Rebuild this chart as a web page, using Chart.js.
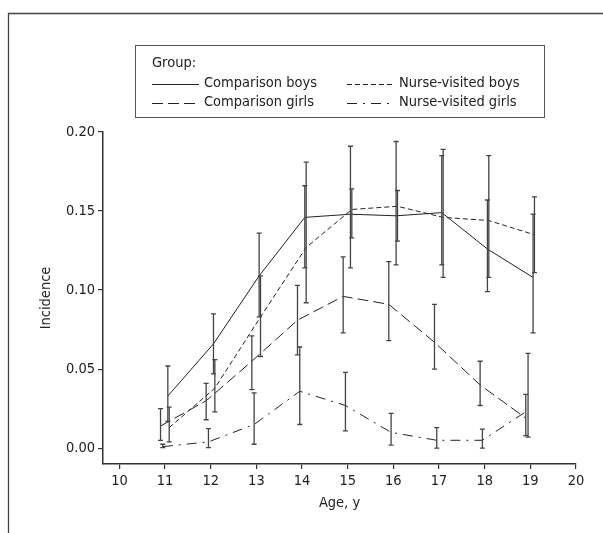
<!DOCTYPE html>
<html>
<head>
<meta charset="utf-8">
<script src="https://cdn.jsdelivr.net/npm/chart.js@4.4.1/dist/chart.umd.min.js"></script>
<style>
  html, body { margin: 0; padding: 0; background: #fff; }
  #wrap { width: 603px; height: 533px; position: relative; }
</style>
</head>
<body>
<div id="wrap"><canvas id="chart"></canvas></div>
<script>
const ages = [11, 12, 13, 14, 15, 16, 17, 18, 19];
const xTicks = [10, 11, 12, 13, 14, 15, 16, 17, 18, 19, 20];
const yTicks = [0, 0.05, 0.1, 0.15, 0.2];

const compBoys     = [0.033, 0.066, 0.109, 0.146, 0.148, 0.147, 0.149, 0.126, 0.108];
const compBoysLow  = [0.017, 0.047, 0.083, 0.114, 0.114, 0.116, 0.116, 0.099, 0.073];
const compBoysHigh = [0.052, 0.085, 0.136, 0.166, 0.191, 0.194, 0.185, 0.157, 0.148];

const nurseBoys     = [0.013, 0.038, 0.083, 0.127, 0.151, 0.153, 0.146, 0.144, 0.135];
const nurseBoysLow  = [0.004, 0.023, 0.058, 0.092, 0.133, 0.131, 0.108, 0.108, 0.111];
const nurseBoysHigh = [0.026, 0.056, 0.109, 0.181, 0.164, 0.163, 0.189, 0.185, 0.159];

const compGirls     = [0.014, 0.030, 0.055, 0.081, 0.096, 0.091, 0.067, 0.040, 0.019];
const compGirlsLow  = [0.005, 0.018, 0.037, 0.059, 0.073, 0.068, 0.050, 0.027, 0.008];
const compGirlsHigh = [0.025, 0.041, 0.071, 0.103, 0.121, 0.118, 0.091, 0.055, 0.034];

const nurseGirls     = [0.001, 0.004, 0.015, 0.036, 0.027, 0.010, 0.005, 0.005, 0.024];
const nurseGirlsLow  = [0.0004, 0.0004, 0.0025, 0.015, 0.011, 0.002, 0.000, 0.000, 0.007];
const nurseGirlsHigh = [0.0025, 0.0124, 0.035, 0.064, 0.048, 0.022, 0.013, 0.012, 0.060];

const FONT = "'Liberation Sans Narrow', 'Arial Narrow', 'DejaVu Sans Condensed', sans-serif";
const FONT_SIZE = 14.5;
const ink = "#222";

// small horizontal dodge so the bars at one age don't overlap
function series(label, values, low, high, dodge, dash) {
  return {
    label,
    data: values.map((v, i) => ({ x: ages[i] + dodge, y: v })),
    low,
    high,
    borderColor: ink,
    borderWidth: 1,
    borderDash: dash,
    pointRadius: 0,
    fill: false,
    tension: 0,
  };
}

const errorBars = {
  id: "errorBars",
  afterDatasetsDraw(chart) {
    const ctx = chart.ctx;
    const xs = chart.scales.x, ys = chart.scales.y;
    ctx.save();
    ctx.strokeStyle = "#444";
    ctx.lineWidth = 1.3;
    ctx.setLineDash([]);
    chart.data.datasets.forEach((ds) => {
      ds.data.forEach((p, i) => {
        const x = xs.getPixelForValue(p.x);
        const top = ys.getPixelForValue(ds.high[i]);
        const bot = ys.getPixelForValue(ds.low[i]);
        ctx.beginPath();
        ctx.moveTo(x, top); ctx.lineTo(x, bot);
        ctx.moveTo(x - 2.5, top); ctx.lineTo(x + 2.5, top);
        ctx.moveTo(x - 2.5, bot); ctx.lineTo(x + 2.5, bot);
        ctx.stroke();
      });
    });
    ctx.restore();
  },
};

const groupLegend = {
  id: "groupLegend",
  afterDraw(chart) {
    const ctx = chart.ctx;
    const ds = chart.data.datasets;
    ctx.save();
    // figure frame
    ctx.strokeStyle = "#444";
    ctx.lineWidth = 1.3;
    ctx.beginPath();
    ctx.moveTo(8.5, 533); ctx.lineTo(8.5, 13.5); ctx.lineTo(603, 13.5);
    ctx.stroke();
    // legend box
    ctx.lineWidth = 1;
    ctx.strokeStyle = "#555";
    ctx.strokeRect(135.5, 45.5, 409, 72);
    ctx.fillStyle = ink;
    ctx.font = FONT_SIZE + "px " + FONT;
    ctx.textBaseline = "middle";
    ctx.fillText("Group:", 152, 63);
    const cells = [
      { d: ds[0], x: 152, y: 83 },
      { d: ds[2], x: 152, y: 102 },
      { d: ds[1], x: 347, y: 83 },
      { d: ds[3], x: 347, y: 102 },
    ];
    cells.forEach((c) => {
      ctx.strokeStyle = ink;
      ctx.lineWidth = 1;
      ctx.setLineDash(c.d.borderDash);
      ctx.beginPath();
      ctx.moveTo(c.x, c.y + 1.5); ctx.lineTo(c.x + 47, c.y + 1.5);
      ctx.stroke();
      ctx.setLineDash([]);
      ctx.fillText(c.d.label, c.x + 52, c.y);
    });
    ctx.restore();
  },
};

Chart.defaults.font.family = FONT;
Chart.defaults.font.size = FONT_SIZE;
Chart.defaults.color = ink;

const config = {
  type: "line",
  data: {
    datasets: [
      series("Comparison boys", compBoys, compBoysLow, compBoysHigh, 0.06, []),
      series("Nurse-visited boys", nurseBoys, nurseBoysLow, nurseBoysHigh, 0.09, [5, 3]),
      series("Comparison girls", compGirls, compGirlsLow, compGirlsHigh, -0.10, [11, 5]),
      series("Nurse-visited girls", nurseGirls, nurseGirlsLow, nurseGirlsHigh, -0.05, [10, 6, 2, 6]),
    ],
  },
  options: {
    responsive: true,
    maintainAspectRatio: false,
    animation: false,
    layout: { padding: { left: 0, top: 132, right: 27, bottom: 0 } },
    plugins: { legend: { display: false }, tooltip: { enabled: false } },
    scales: {
      x: {
        type: "linear",
        min: 9.64,
        max: 20,
        afterBuildTicks: (s) => { s.ticks = xTicks.map((v) => ({ value: v })); },
        afterFit: (s) => { s.height = 69; },
        ticks: { padding: 4, maxRotation: 0, autoSkip: false },
        grid: { drawOnChartArea: false, drawTicks: true, tickLength: 5, color: "#333", lineWidth: 1.2 },
        border: { display: true, color: "#333", width: 1.5 },
        title: { display: true, text: "Age, y", padding: { top: 0, bottom: 21 } },
      },
      y: {
        min: -0.01,
        max: 0.2,
        afterBuildTicks: (s) => { s.ticks = yTicks.map((v) => ({ value: v })); },
        afterFit: (s) => { s.width = 103; },
        ticks: { padding: 3, callback: (v) => v.toFixed(2) },
        grid: { drawOnChartArea: false, drawTicks: true, tickLength: 5, color: "#333", lineWidth: 1.2 },
        border: { display: true, color: "#333", width: 1.5 },
        title: { display: true, text: "Incidence", padding: { top: 38, bottom: 0 } },
      },
    },
  },
  plugins: [errorBars, groupLegend],
};

window.onload = function () {
  const ctx = document.getElementById("chart").getContext("2d");
  window.chart = new Chart(ctx, config);
};
</script>
</body>
</html>
